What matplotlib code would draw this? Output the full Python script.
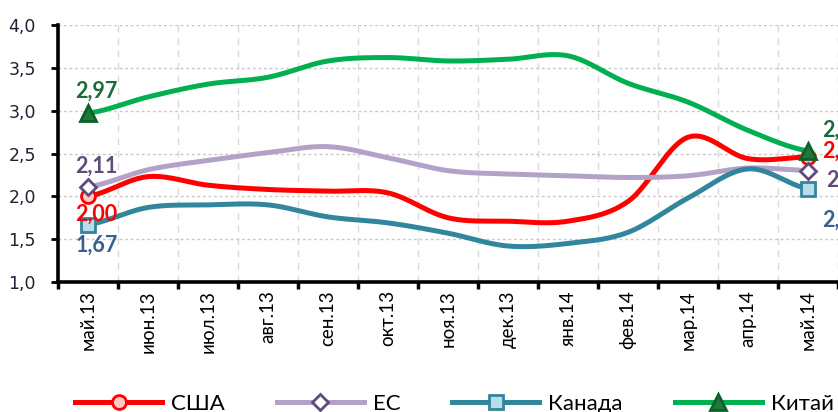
import numpy as np
import matplotlib
matplotlib.use("Agg")
import matplotlib.pyplot as plt
from matplotlib.lines import Line2D

months = ['май.13', 'июн.13', 'июл.13', 'авг.13', 'сен.13', 'окт.13', 'ноя.13',
          'дек.13', 'янв.14', 'фев.14', 'мар.14', 'апр.14', 'май.14']
usa = [2.00, 2.23, 2.13, 2.08, 2.06, 2.04, 1.75, 1.71, 1.71, 1.94, 2.69, 2.44, 2.46]
eu = [2.11, 2.31, 2.42, 2.51, 2.58, 2.45, 2.30, 2.26, 2.24, 2.22, 2.24, 2.33, 2.30]
canada = [1.67, 1.87, 1.90, 1.90, 1.76, 1.69, 1.57, 1.42, 1.45, 1.58, 1.98, 2.32, 2.09]
china = [2.97, 3.16, 3.31, 3.39, 3.58, 3.62, 3.58, 3.60, 3.64, 3.32, 3.10, 2.77, 2.53]
series_names = ['США', 'ЕС', 'Канада', 'Китай']


def smooth(y, n=40):
    y = np.asarray(y, float)
    k = len(y)
    m = np.empty(k)
    m[1:-1] = (y[2:] - y[:-2]) / 2
    m[0] = (y[1] - y[0]) / 2
    m[-1] = (y[-1] - y[-2]) / 2
    xs, ys = [], []
    t = np.linspace(0, 1, n, endpoint=False)
    h00 = 2 * t**3 - 3 * t**2 + 1
    h10 = t**3 - 2 * t**2 + t
    h01 = -2 * t**3 + 3 * t**2
    h11 = t**3 - t**2
    for i in range(k - 1):
        xs.append(i + t)
        ys.append(h00 * y[i] + h10 * m[i] + h01 * y[i + 1] + h11 * m[i + 1])
    xs.append([k - 1])
    ys.append([y[-1]])
    return np.concatenate(xs), np.concatenate(ys)


W, H = 838, 412
fig = plt.figure(figsize=(W / 100, H / 100), dpi=100)
ax = fig.add_axes([58 / W, (H - 282) / H, (838 - 58) / W, (282 - 25) / H])

styles = [
    dict(data=usa, color='#FF0000', marker='o', mfc='#FFC8C8', mec='#FF0000', ms=10,
         lab_color='#FF0000'),
    dict(data=eu, color='#B3A2C7', marker='D', mfc='#FFFFFF', mec='#604A7B', ms=8,
         lab_color='#604A7B'),
    dict(data=canada, color='#31859C', marker='s', mfc='#B7DEE8', mec='#31859C', ms=10,
         lab_color='#376092'),
    dict(data=china, color='#00B050', marker='^', mfc='#1E7A3C', mec='#0E5F2A', ms=11,
         lab_color='#1E6B3A'),
]

x = np.arange(len(months))
handles = []
for st in styles:
    sx, sy = smooth(st['data'])
    ax.plot(sx, sy, color=st['color'], lw=3.6, solid_capstyle='round', zorder=3,
            clip_on=False)
    ends = [0, len(months) - 1]
    ax.plot(x[ends], np.asarray(st['data'])[ends], ls='none', marker=st['marker'],
            mfc=st['mfc'], mec=st['mec'], mew=2, ms=st['ms'], zorder=4, clip_on=False)
    handles.append(Line2D([], [], color=st['color'], lw=3.6, marker=st['marker'],
                          mfc=st['mfc'], mec=st['mec'], mew=2, ms=st['ms']))

# data labels (offsets in points)
first_off = [(6, -5), (6, 7), (6, -7), (6, 8)]  # usa, eu, canada, china
first_va = ['top', 'bottom', 'top', 'bottom']
last_off = [(10, 4), (13, -7), (10, -23), (10, 15)]
lab_font = dict(family=['Lato', 'DejaVu Sans'], fontweight='bold', fontsize=15.5)
for st, fo, va, lo in zip(styles, first_off, first_va, last_off):
    d = st['data']
    ax.annotate(f"{d[0]:.2f}".replace('.', ','), (0, d[0]), xytext=fo,
                textcoords='offset points', ha='center', va=va,
                color=st['lab_color'], annotation_clip=False, zorder=5, **lab_font)
    ax.annotate(f"{d[-1]:.2f}".replace('.', ','), (len(d) - 1, d[-1]), xytext=lo,
                textcoords='offset points', ha='left', va='center',
                color=st['lab_color'], annotation_clip=False, zorder=5, **lab_font)

ax.set_xlim(-0.5, len(months) - 0.5)
ax.set_ylim(1.0, 4.0)

# y axis
yt = np.arange(1.0, 4.01, 0.5)
ax.set_yticks(yt)
ax.set_yticklabels([f"{v:.1f}".replace('.', ',') for v in yt], fontsize=12.5,
                   color='#1F2237')
ax.tick_params(axis='y', direction='out', length=5, width=2, pad=11, colors='black',
               labelcolor='#1F2237')

# x axis: boundaries as major ticks, labels on minor ticks
ax.set_xticks(np.arange(-0.5, len(months), 1.0))
ax.set_xticklabels([])
ax.set_xticks(x, minor=True)
ax.set_xticklabels(months, minor=True, rotation=90, fontsize=13.5, va='top',
                   ha='center', family=['Lato', 'DejaVu Sans'])
ax.tick_params(axis='x', which='major', direction='out', length=5, width=2.5)
ax.tick_params(axis='x', which='minor', length=0, pad=6)

for sp in ['top', 'right']:
    ax.spines[sp].set_visible(False)
for sp in ['left', 'bottom']:
    ax.spines[sp].set_linewidth(2.6)
    ax.spines[sp].set_color('black')
    ax.spines[sp].set_zorder(6)

ax.grid(axis='y', which='major', color='#C8C8C8', ls=(0, (2, 2)), lw=1)
ax.grid(axis='x', which='major', color='#DADADA', ls=(0, (5, 4)), lw=1)
ax.set_axisbelow(True)

fs = 16
fpx = fs * 100 / 72
fig.legend(handles, series_names, loc='center left', bbox_to_anchor=(75 / W, 8 / H),
           ncol=4, frameon=False, borderpad=0, borderaxespad=0,
           handlelength=87 / fpx, handletextpad=9 / fpx,
           columnspacing=52 / fpx,
           prop=dict(family=['Lato', 'DejaVu Sans'], size=fs))

fig.savefig('out.png', dpi=100)
